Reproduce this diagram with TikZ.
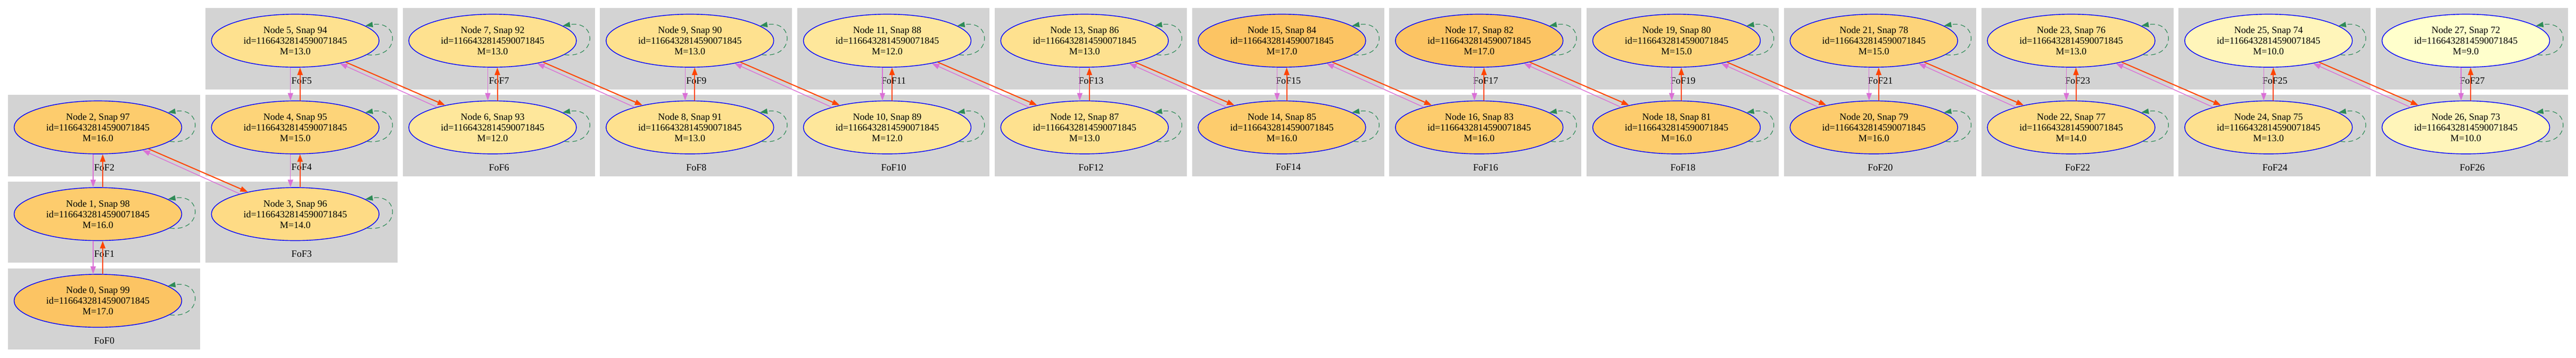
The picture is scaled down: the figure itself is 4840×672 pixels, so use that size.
\documentclass[tikz,border=0pt]{standalone}
\usepackage{fontspec}
\setmainfont{Liberation Serif}
\usetikzlibrary{arrows.meta,calc,positioning,shapes.geometric}

\definecolor{fofgray}{HTML}{D3D3D3}
\definecolor{orangered}{HTML}{FF4500}
\definecolor{orchid}{HTML}{DA70D6}
\definecolor{seagreen}{HTML}{2E8B57}
\definecolor{mass9}{HTML}{FFFFCC}
\definecolor{mass10}{HTML}{FFF5BA}
\definecolor{mass12}{HTML}{FEE79B}
\definecolor{mass13}{HTML}{FEE18F}
\definecolor{mass14}{HTML}{FEDB85}
\definecolor{mass15}{HTML}{FDD479}
\definecolor{mass16}{HTML}{FDCC6D}
\definecolor{mass17}{HTML}{FCC463}

\begin{document}
\begin{tikzpicture}[x=0.5pt,y=0.5pt,
    fof/.style={rectangle,fill=fofgray,draw=none,minimum width=180.5pt,minimum height=76.3pt,
        inner sep=0pt,outer sep=0pt,anchor=north west},
    fofname/.style={font=\fontsize{9}{10}\selectfont,inner sep=0pt},
    halo/.style={ellipse,draw=blue,line width=0.7pt,minimum width=157.5pt,minimum height=49.75pt,
        inner sep=0pt,align=center,font=\fontsize{9}{10}\selectfont},
    prog/.style={draw=orangered,line width=1pt,-{Triangle[length=7pt,width=5pt]}},
    desc/.style={draw=orchid,line width=0.7pt,-{Triangle[length=7pt,width=5pt]}},
    selfloop/.style={draw=seagreen,line width=0.6pt,dash pattern=on 4.5pt off 3pt,
        -{Triangle[length=7pt,width=5pt]}}]

    % Fond
    \fill[white] (0,0) rectangle (4840,-672);
    \useasboundingbox (0,0) rectangle (4840,-672);

    % Groupes FoF et halos (noeud/colonne/ligne/masse)
    \foreach \n/\c/\r/\m in {
        0/0/3/17, 1/0/2/16, 2/0/1/16,
        3/1/2/14, 4/1/1/15, 5/1/0/13,
        6/2/1/12, 7/2/0/13,
        8/3/1/13, 9/3/0/13,
        10/4/1/12, 11/4/0/12,
        12/5/1/13, 13/5/0/13,
        14/6/1/16, 15/6/0/17,
        16/7/1/16, 17/7/0/17,
        18/8/1/16, 19/8/0/15,
        20/9/1/16, 21/9/0/15,
        22/10/1/14, 23/10/0/13,
        24/11/1/13, 25/11/0/10,
        26/12/1/10, 27/12/0/9}{
        \node[fof] (c\n) at ({15+370.75*\c},{-15.4-162.75*\r}) {};
        \node[fofname] (l\n) at ($(c\n.north west)+(181,-136)$) {FoF\n};
        \node[halo,fill=mass\m] (n\n) at ($(c\n.north west)+(169,-61)$)
            {Node \n, Snap \the\numexpr99-\n\relax\\id=1166432814590071845\\M=\m.0};
    }

    % Liens verticaux
    \foreach \k/\j in {0/1,1/2,3/4,4/5,6/7,8/9,10/11,12/13,14/15,16/17,18/19,20/21,22/23,24/25,26/27}{
        \draw[desc] ($(n\j.south)+(-9,0)$) -- ($(n\k.north)+(-9,0)$);
        \draw[prog] ($(n\k.north)+(9,0)$) -- ($(n\j.south)+(9,0)$);
    }

    % Liens diagonaux
    \foreach \k/\j in {2/3,5/6,7/8,9/10,11/12,13/14,15/16,17/18,19/20,21/22,23/24,25/26}{
        \draw[prog] (n\k.-23) -- (n\j.155);
        \draw[desc] (n\j.160) -- (n\k.-27.5);
    }

    % Boucles
    \foreach \n in {0,...,27}{
        \draw[selfloop] (n\n.-11) .. controls +(62,-8) and +(65,11) .. (n\n.12);
    }

\end{tikzpicture}
\end{document}
